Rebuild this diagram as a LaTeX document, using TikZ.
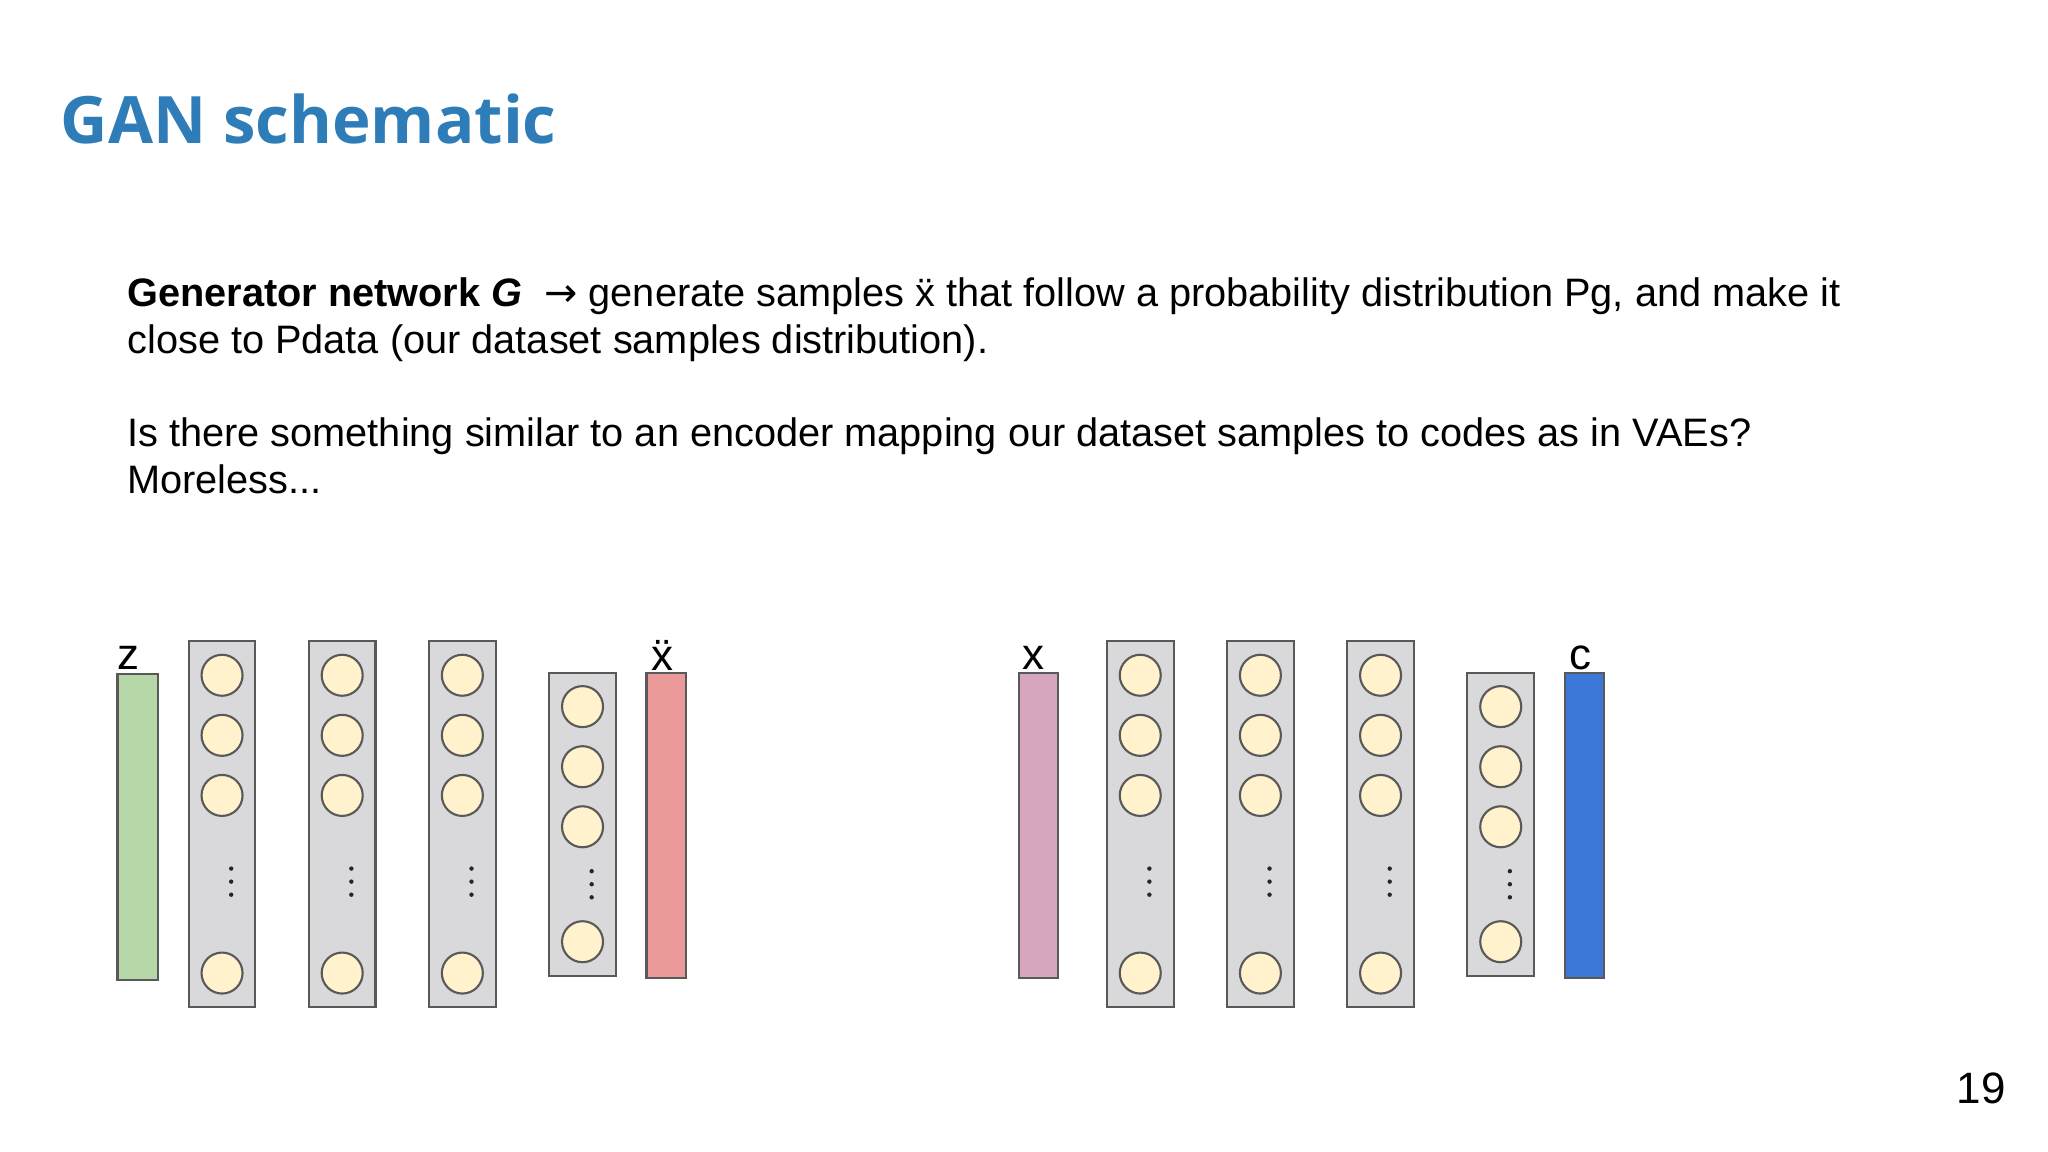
\documentclass[tikz,border=0pt]{standalone}
\usepackage{fontspec}
\setmainfont{Liberation Sans}
\newfontfamily\titlefont{Open Sans}
\newfontfamily\arrowfont{DejaVu Sans}
\definecolor{titleblue}{HTML}{2F7DB8}
\definecolor{colgray}{HTML}{D9D9DB}
\definecolor{neuron}{HTML}{FFF2CC}
\definecolor{zgreen}{HTML}{B6D7A8}
\definecolor{xred}{HTML}{EA9999}
\definecolor{xpink}{HTML}{D5A6BD}
\definecolor{cblue}{HTML}{3C78D8}
\tikzset{
  colbox/.style={draw=black!65,fill=colgray,line width=0.6pt},
  barbox/.style={draw=black!65,line width=0.6pt},
  neur/.style={circle,draw=black!65,fill=neuron,line width=0.6pt,minimum size=0.41cm,inner sep=0},
  dotmark/.style={fill=black!85,radius=0.022cm},
  lbl/.style={inner sep=0,font=\fontsize{12.5}{12.5}\selectfont},
  body/.style={inner sep=0,anchor=north west,align=left,font=\fontsize{11.3}{13.4}\selectfont}
}
\begin{document}
\begin{tikzpicture}[x=0.01306cm,y=-0.01306cm]
\useasboundingbox (0,0) rectangle (1568,882);
\node[inner sep=0,anchor=west,text=titleblue,font=\titlefont\bfseries\fontsize{18.6}{18.6}\selectfont] (title) at (46,91) {GAN schematic};
\node[body] (para1) at (97,212) {\textbf{Generator network \textit{G}} \ {\arrowfont →} generate samples \"{x} that follow a probability distribution Pg, and make it\\close to Pdata (our dataset samples distribution).};
\node[body] (para2) at (97,319) {Is there something similar to an encoder mapping our dataset samples to codes as in VAEs?\\Moreless...};
\node[lbl] (pnum) at (1517,833) {19};
% tall columns
\foreach \nm/\cx in {a1/170,a2/262,a3/354,b1/873,b2/965,b3/1057}{
  \draw[colbox] (\cx-25.5,491) rectangle (\cx+25.5,771);
  \foreach \i/\cy in {1/517,2/563,3/609,4/745}{
    \node[neur] (\nm n\i) at (\cx,\cy) {};
  }
  \foreach \dy in {665,675,685}{\fill[dotmark] (\cx+7,\dy) circle;}
}
% short columns
\foreach \nm/\cx in {a4/446,b4/1149}{
  \draw[colbox] (\cx-25.5,515) rectangle (\cx+25.5,747);
  \foreach \i/\cy in {1/541,2/587,3/633,4/721}{
    \node[neur] (\nm n\i) at (\cx,\cy) {};
  }
  \foreach \dy in {667,677,687}{\fill[dotmark] (\cx+7,\dy) circle;}
}
% bars
\draw[barbox,fill=zgreen] (90,516) rectangle (121,750);
\draw[barbox,fill=xred] (495,515) rectangle (525,749);
\draw[barbox,fill=xpink] (780,515) rectangle (810,749);
\draw[barbox,fill=cblue] (1198,515) rectangle (1228,749);
\node[lbl] (lz) at (98,504) {z};
\node[lbl] (lxg) at (507,502) {\"{x}};
\node[lbl] (lx) at (791,504) {x};
\node[lbl] (lc) at (1210,504) {c};
\end{tikzpicture}
\end{document}
